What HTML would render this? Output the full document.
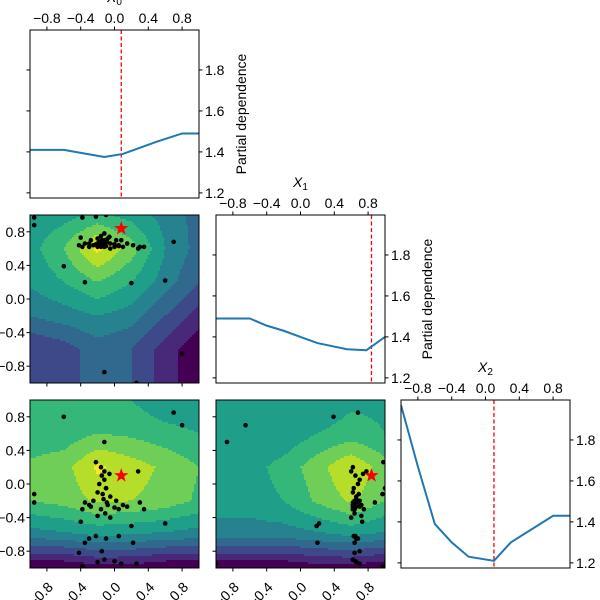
<!DOCTYPE html>
<html><head><meta charset="utf-8"><style>
html,body{margin:0;padding:0;background:#fff;width:600px;height:600px;overflow:hidden}
svg{display:block;font-family:"Liberation Sans","DejaVu Sans",sans-serif}
</style></head><body>
<svg id="c" width="600" height="600"></svg>
<script>
// ---- data ----
const pd0X = [-1,-0.6,-0.12,0.1,0.5,0.8,1];
const pd0Y = [1.41,1.41,1.375,1.39,1.45,1.49,1.49];
const pd1X = [-1,-0.6,-0.4,-0.2,0,0.2,0.55,0.78,1];
const pd1Y = [1.49,1.49,1.455,1.43,1.40,1.37,1.34,1.335,1.40];
const pd2X = [-1,-0.8,-0.6,-0.4,-0.2,0.1,0.3,0.8,1];
const pd2Y = [1.97,1.67,1.39,1.30,1.23,1.21,1.30,1.43,1.43];
const bestPoint = [0.08,0.84,0.1];
const yTicksPD = [1.2,1.4,1.6,1.8];
const xTicks = [-0.8,-0.4,0.0,0.4,0.8];
// contour fields, rows from top (value 1) to bottom (value -1)
const field10 = [
 [0.52,0.56,0.62,0.56,0.46,0.36],
 [0.56,0.7,0.93,0.75,0.5,0.36],
 [0.52,0.6,0.7,0.6,0.45,0.3],
 [0.4,0.45,0.5,0.45,0.3,0.15],
 [0.2,0.25,0.35,0.3,0.15,0.02],
 [0.2,0.25,0.35,0.3,0.15,0.02]];
const field20 = [
 [0.62,0.62,0.62,0.6,0.52,0.52],
 [0.64,0.64,0.7,0.68,0.64,0.6],
 [0.72,0.76,0.92,0.85,0.78,0.7],
 [0.7,0.74,0.82,0.8,0.76,0.68],
 [0.45,0.48,0.52,0.5,0.48,0.45],
 [0.0,0.0,0.05,0.05,0.0,0.0]];
const field21 = [
 [0.5,0.5,0.5,0.52,0.58,0.58],
 [0.5,0.5,0.52,0.6,0.64,0.6],
 [0.56,0.56,0.64,0.76,0.9,0.74],
 [0.55,0.55,0.6,0.72,0.82,0.7],
 [0.45,0.45,0.45,0.48,0.52,0.48],
 [0.0,0.0,0.0,0.05,0.05,0.0]];
const samplesX0 = [-0.15,-0.12,-0.18,-0.1,-0.2,-0.05,-0.25,-0.3,0.0,0.05,-0.08,-0.16,-0.35,-0.28,0.1,0.15,-0.12,-0.14,-0.11,-0.2,-0.4,-0.38,-0.05,0.02,-0.06,-0.16,-0.13,-0.09,-0.22,-0.1,0.05,-0.3,-0.15,-0.42,-0.2,-0.12,0.0,0.08,-0.95,-0.95,-0.6,-0.35,0.2,0.6,0.7,0.8,-0.12,0.26,-0.38,-0.22,-0.1,0.3,0.35,0.28,0.22];
const samplesX1 = [0.65,0.7,0.68,0.63,0.62,0.66,0.64,0.62,0.62,0.64,0.72,0.75,0.66,0.7,0.62,0.66,0.78,0.69,0.64,0.72,0.73,0.62,0.6,0.7,0.74,0.62,0.66,0.68,0.65,0.68,0.63,0.66,0.7,0.64,0.66,0.62,0.65,0.7,0.97,0.88,0.39,0.2,0.19,0.22,0.68,-0.65,-0.87,-1.0,0.97,0.98,1.0,0.62,0.62,0.6,0.64];
const samplesX2 = [0.1,0.05,0.0,-0.05,-0.1,-0.15,-0.2,-0.25,-0.28,-0.3,-0.25,-0.3,-0.22,-0.27,-0.25,-0.27,0.15,-0.12,-0.35,-0.38,-0.45,-0.3,-0.4,-0.2,0.12,0.2,-0.18,-0.22,-0.62,-0.65,-0.62,-0.65,-0.8,-0.82,-0.93,-0.9,-0.92,-0.95,-0.12,-0.22,0.8,-0.7,-0.5,-0.47,0.85,0.7,0.5,-0.95,-0.98,0.26,-0.05,-0.22,-0.3,0.15,-0.7];

const viridis = ["#440154","#482878","#3e4989","#31688e","#26828e","#1f9e89","#35b779","#6ece58","#b5de2b","#fde725"];
const NS="http://www.w3.org/2000/svg";
const svg=document.getElementById('c');
function el(tag,attrs,parent){const e=document.createElementNS(NS,tag);for(const k in attrs)e.setAttribute(k,attrs[k]);(parent||svg).appendChild(e);return e;}
const W=169,H=168,FS=14;
function sx(x0,v){return x0+(v+1)/2*W;}
function syc(y0,v){return y0+(1-v)/2*H;}
function syPD(y0,v){return y0+(1.995-v)/0.82*H;}

function interp(f,x,y){
  const gx=(x+1)/2*5, gy=(1-y)/2*5;
  const i=Math.max(0,Math.min(4,Math.floor(gx))), j=Math.max(0,Math.min(4,Math.floor(gy)));
  const tx=gx-i, ty=gy-j;
  const a=f[j][i]*(1-tx)+f[j][i+1]*tx, b=f[j+1][i]*(1-tx)+f[j+1][i+1]*tx;
  return a*(1-ty)+b*ty;
}
function contour(x0,y0,f,name){
  const cp=el('clipPath',{id:'clip'+name}); el('rect',{x:x0,y:y0,width:W,height:H},cp);
  const g=el('g',{'clip-path':'url(#clip'+name+')'});
  
  
  const s=2;
  for(let py=0;py<H;py+=s){
    let start=0,prev=-1;
    for(let px=0;px<W;px+=s){
      const v=interp(f,(px+s/2)/W*2-1,1-(py+s/2)/H*2);
      const k=Math.max(0,Math.min(9,Math.floor(v*10)));
      if(k!==prev){
        if(prev>=0)el('rect',{x:x0+start,y:y0+py,width:px-start+0.6,height:s+0.6,fill:viridis[prev]},g);
        start=px;prev=k;
      }
    }
    el('rect',{x:x0+start,y:y0+py,width:W-start+1,height:s+0.6,fill:viridis[prev]},g);
  }
}
function frame(x0,y0,name){
  const r=el('rect',{x:x0,y:y0,width:W,height:H,fill:'none',stroke:'#000','stroke-width':1});
  
  
}
function text(x,y,s,anchor,extra){const t=el('text',Object.assign({x:x,y:y,'font-size':FS,fill:'#000','text-anchor':anchor||'middle'},extra||{}));t.textContent=s;return t;}
function fmt(v){return (v<0?'\u22120':'0')+'.'+Math.round(Math.abs(v)*10);}

function scatter(x0,y0,xs,ys,best,name){
  const g=el('g',{'clip-path':'url(#clip'+name+')'});
  for(let i=0;i<xs.length;i++){
    const c=el('circle',{cx:sx(x0,xs[i]),cy:syc(y0,ys[i]),r:2.3,fill:'#000'},g);
    
    
  }
  const cx=sx(x0,best[0]),cy=syc(y0,best[1]);let p='';
  for(let k=0;k<10;k++){const r=k%2?3:7.5,a=-Math.PI/2+k*Math.PI/5;p+=(cx+r*Math.cos(a))+','+(cy+r*Math.sin(a))+' ';}
  const st=el('polygon',{points:p,fill:'#f00'},g);
  
  
}
function leftTicks(x0,y0,labels){
  xTicks.forEach(v=>{const y=syc(y0,v);el('line',{x1:x0-3.5,x2:x0,y1:y,y2:y,stroke:'#000'});
    if(labels){const t=text(x0-5,y+5,fmt(v),'end');}});
}
function bottomTicks(x0,y0,labels){
  xTicks.forEach(v=>{const x=sx(x0,v);el('line',{x1:x,x2:x,y1:y0+H,y2:y0+H+3.5,stroke:'#000'});
    if(labels){const ax=x+7,ay=y0+H+20;const t=text(ax,ay,fmt(v),'end',{transform:'rotate(-45 '+ax+' '+ay+')'});}});
}
function pdPanel(x0,y0,xs,ys,best,name,xlabel,ylabel){
  el('rect',{x:x0,y:y0,width:W,height:H,fill:'#fff'});
  const cp=el('clipPath',{id:'clip'+name}); el('rect',{x:x0,y:y0,width:W,height:H},cp);
  const g=el('g',{'clip-path':'url(#clip'+name+')'});
  const bx=sx(x0,best);
  const dl=el('line',{x1:bx,x2:bx,y1:y0,y2:y0+H,stroke:'#f00','stroke-width':1.3,'stroke-dasharray':'4,2.5'},g);
  
  
  const pl=el('polyline',{points:xs.map((v,i)=>sx(x0,v)+','+syPD(y0,ys[i])).join(' '),fill:'none',stroke:'#1f77b4','stroke-width':2},g);
  
  
  frame(x0,y0,name);
  xTicks.forEach(v=>{const x=sx(x0,v);el('line',{x1:x,x2:x,y1:y0-3.5,y2:y0,stroke:'#000'});
    const t=text(x,y0-7,fmt(v));});
  yTicksPD.forEach(v=>{const y=syPD(y0,v);
    el('line',{x1:x0-3.5,x2:x0,y1:y,y2:y,stroke:'#000'});
    el('line',{x1:x0+W,x2:x0+W+3.5,y1:y,y2:y,stroke:'#000'});
    const t=text(x0+W+6,y+5,v.toFixed(1),'start');});
  if(xlabel){const t=el('text',{x:x0+W/2,y:y0-28,'font-size':FS,'text-anchor':'middle','font-style':'italic'});t.innerHTML='X<tspan font-size="10" dy="3" font-style="normal">'+xlabel+'</tspan>';
    }
  if(ylabel){const cx=x0+W+47,cy=y0+H/2;const t=text(cx,cy,'Partial dependence','middle',{transform:'rotate(-90 '+cx+' '+cy+')'});
    }
}
const P=[30,216,401], Q=[30,215,400];
pdPanel(P[0],Q[0],pd0X,pd0Y,bestPoint[0],'pd-x0','0',true);
pdPanel(P[1],Q[1],pd1X,pd1Y,bestPoint[1],'pd-x1','1',true);
pdPanel(P[2],Q[2],pd2X,pd2Y,bestPoint[2],'pd-x2','2',false);
contour(P[0],Q[1],field10,'c10'); scatter(P[0],Q[1],samplesX0,samplesX1,[bestPoint[0],bestPoint[1]],'c10'); frame(P[0],Q[1],'c10');
leftTicks(P[0],Q[1],true); bottomTicks(P[0],Q[1],false);
contour(P[0],Q[2],field20,'c20'); scatter(P[0],Q[2],samplesX0,samplesX2,[bestPoint[0],bestPoint[2]],'c20'); frame(P[0],Q[2],'c20');
leftTicks(P[0],Q[2],true); bottomTicks(P[0],Q[2],true);
contour(P[1],Q[2],field21,'c21'); scatter(P[1],Q[2],samplesX1,samplesX2,[bestPoint[1],bestPoint[2]],'c21'); frame(P[1],Q[2],'c21');
leftTicks(P[1],Q[2],false); bottomTicks(P[1],Q[2],true);
</script>
</body></html>
